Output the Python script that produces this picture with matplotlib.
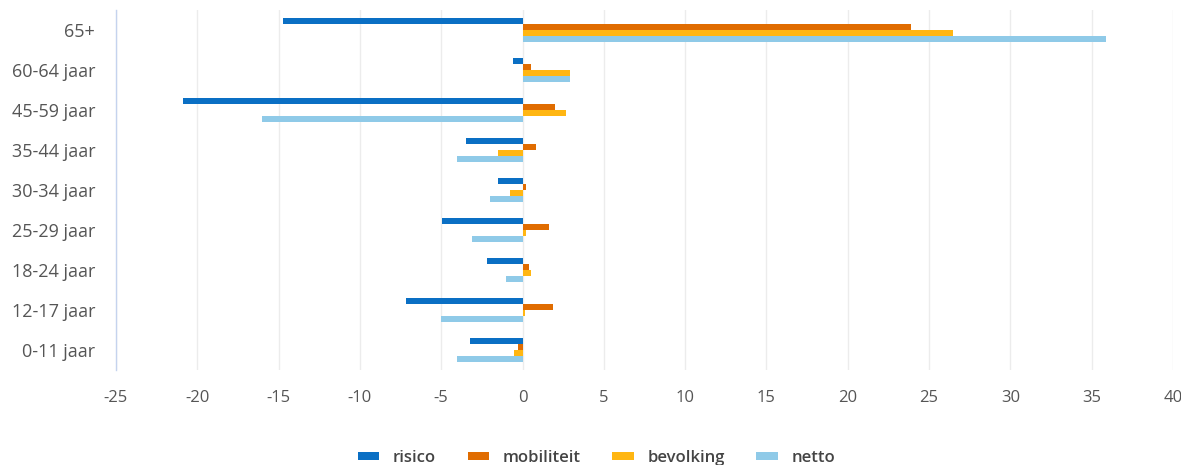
import matplotlib.pyplot as plt
import numpy as np

plt.rcParams['font.family'] = ['Open Sans', 'DejaVu Sans']
plt.rcParams['axes.unicode_minus'] = False

categories = ['65+', '60-64 jaar', '45-59 jaar', '35-44 jaar', '30-34 jaar',
              '25-29 jaar', '18-24 jaar', '12-17 jaar', '0-11 jaar']
risico = [-14.7, -0.6, -20.9, -3.5, -1.5, -4.95, -2.2, -7.15, -3.2]
mobiliteit = [23.9, 0.55, 2.0, 0.8, 0.2, 1.6, 0.4, 1.9, -0.3]
bevolking = [26.5, 2.9, 2.7, -1.5, -0.75, 0.2, 0.5, 0.15, -0.5]
netto = [35.9, 2.9, -16.0, -4.0, -2.0, -3.1, -1.0, -5.0, -4.0]

series = [('risico', risico, '#0a6fc4'),
          ('mobiliteit', mobiliteit, '#e06c00'),
          ('bevolking', bevolking, '#ffb612'),
          ('netto', netto, '#8fcae8')]

fig = plt.figure(figsize=(11.81, 4.65), dpi=100)
ax = fig.add_axes([0.0982, 0.204, 0.895, 0.774])

y = np.arange(len(categories))
h = 0.15
for k, (name, vals, col) in enumerate(series):
    ax.barh(y + (k - 1.5) * h, vals, height=h, color=col, label=name, zorder=3)

ax.set_xlim(-25, 40)
ax.set_ylim(8.5, -0.5)
ax.set_xticks(np.arange(-25, 41, 5))
ax.set_yticks(y)
ax.set_yticklabels(categories)
ax.tick_params(length=0, colors='#555555')
ax.tick_params(axis='x', pad=14, labelsize=12)
ax.tick_params(axis='y', pad=15, labelsize=13)
ax.grid(axis='x', color='#ececec', linewidth=1, zorder=0)
for s in ['top', 'right', 'bottom']:
    ax.spines[s].set_visible(False)
ax.spines['left'].set_color('#c5d3ee')
ax.spines['left'].set_linewidth(1)

leg = fig.legend(loc='lower center', bbox_to_anchor=(0.505, -0.035), ncol=4, frameon=False,
                 handlelength=1.3, handleheight=0.35, columnspacing=1.9, handletextpad=0.8,
                 prop={'size': 12, 'weight': 'semibold'})
for t in leg.get_texts():
    t.set_color('#444444')

fig.savefig('out.png', dpi=100)
